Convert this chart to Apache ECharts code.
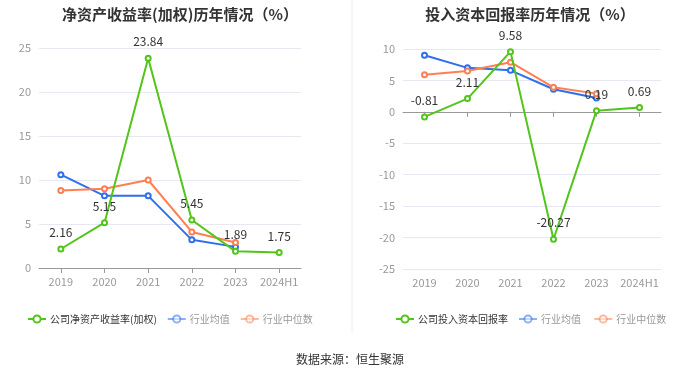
<!DOCTYPE html>
<html><head><meta charset="utf-8">
<script src="https://cdn.jsdelivr.net/npm/echarts@6/dist/echarts.min.js"></script>
<style>html,body{margin:0;padding:0;background:#fff}#c{width:700px;height:378px}</style>
</head><body><div id="c"></div>
<script>
const categories = ['2019','2020','2021','2022','2023','2024H1'];
const roeCompany = [2.16, 5.15, 23.84, 5.45, 1.89, 1.75];
const roeIndustryAvg = [10.6, 8.2, 8.2, 3.2, 2.4, null];
const roeIndustryMedian = [8.8, 9.0, 10.0, 4.1, 2.9, null];
const roicCompany = [-0.81, 2.11, 9.58, -20.27, 0.19, 0.69];
const roicIndustryAvg = [9.0, 7.0, 6.6, 3.6, 2.2, null];
const roicIndustryMedian = [5.9, 6.5, 7.9, 3.9, 2.9, null];
const leftTicks = {min: 0, max: 25, interval: 5};
const rightTicks = {min: -25, max: 10, interval: 5};

const GREEN = '#52c41a', BLUE = '#2f6fec', ORANGE = '#ff7f50';
const chart = echarts.init(document.getElementById('c'));
const FONT = '"Noto Sans CJK SC", "Noto Sans", sans-serif';

function xAx(gi){
  return {type:'category', gridIndex:gi, data:categories, boundaryGap:true,
    axisLine:{lineStyle:{color:'#999'}}, axisTick:{show:true, alignWithLabel:true, lineStyle:{color:'#999'}},
    axisLabel:{color:'#999', fontSize:11, fontFamily:FONT, margin:8, interval:0}};
}
function yAx(gi,t){
  return {type:'value', gridIndex:gi, min:t.min, max:t.max, interval:t.interval,
    axisLine:{show:false}, axisTick:{show:false},
    axisLabel:{color:'#999', fontSize:11, fontFamily:FONT},
    splitLine:{lineStyle:{color:'#e6e9f2'}}};
}
function ser(name, data, color, gi, label){
  return {name, type:'line', xAxisIndex:gi, yAxisIndex:gi, data, symbol:'emptyCircle', symbolSize:5,
    lineStyle:{width:2, color}, itemStyle:{color}, z: label?3:2,
    label:{show:!!label, position:'top', distance:7, color:'#333', fontSize:12, fontFamily:FONT}};
}
function legend(left, names){
  return {left, top:314, itemWidth:18, itemHeight:9, itemGap:10, padding:0,
    data:[{name:names[0], textStyle:{color:'#333'}},
          {name:names[1], itemStyle:{opacity:0.55}, lineStyle:{opacity:0.55}, textStyle:{color:'#999'}},
          {name:names[2], itemStyle:{opacity:0.55}, lineStyle:{opacity:0.55}, textStyle:{color:'#999'}}],
    textStyle:{fontSize:10, fontFamily:FONT, padding:[0,0,0,-1]}, selectedMode:false};
}

chart.setOption({
  animation:false,
  title:[
    {text:'净资产收益率(加权)历年情况（%）', left:175, textAlign:'center', top:2, textStyle:{fontSize:15, fontWeight:'bold', color:'#333', fontFamily:FONT}},
    {text:'投入资本回报率历年情况（%）', left:525, textAlign:'center', top:2, textStyle:{fontSize:15, fontWeight:'bold', color:'#333', fontFamily:FONT}}
  ],
  grid:[
    {left:39, top:48, width:262, height:220},
    {left:403, top:49, width:258, height:220}
  ],
  xAxis:[xAx(0), xAx(1)],
  yAxis:[yAx(0,leftTicks), yAx(1,rightTicks)],
  legend:[
    legend(27, ['公司净资产收益率(加权)','行业均值','行业中位数']),
    legend(395, ['公司投入资本回报率','行业均值 ','行业中位数 '])
  ],
  series:[
    ser('行业均值', roeIndustryAvg, BLUE, 0),
    ser('行业中位数', roeIndustryMedian, ORANGE, 0),
    ser('公司净资产收益率(加权)', roeCompany, GREEN, 0, true),
    ser('行业均值 ', roicIndustryAvg, BLUE, 1),
    ser('行业中位数 ', roicIndustryMedian, ORANGE, 1),
    ser('公司投入资本回报率', roicCompany, GREEN, 1, true)
  ],
  graphic:[
    {type:'line', shape:{x1:352, y1:0, x2:352, y2:333}, style:{stroke:'#eeeeee', lineWidth:1}},
    {type:'text', left:'center', top:353, style:{text:'数据来源：恒生聚源', fill:'#333', fontSize:12, fontFamily:FONT}}
  ]
});
</script></body></html>
